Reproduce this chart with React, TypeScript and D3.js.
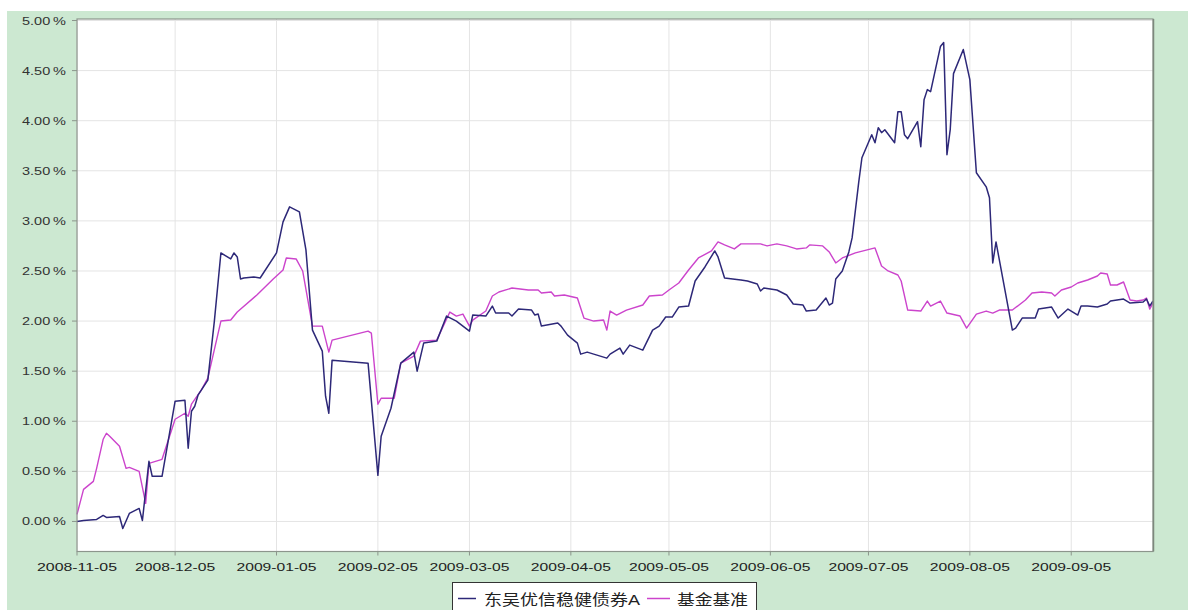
import React from "react";
import * as d3 from "d3";

const fundDates = [
  "2008-11-05","2008-11-07","2008-11-11","2008-11-13","2008-11-14","2008-11-18","2008-11-19","2008-11-21","2008-11-24","2008-11-25",
  "2008-11-27","2008-11-28","2008-12-01","2008-12-05","2008-12-08","2008-12-09","2008-12-10","2008-12-11","2008-12-12","2008-12-15",
  "2008-12-17","2008-12-19","2008-12-22","2008-12-23","2008-12-24","2008-12-25","2008-12-26","2008-12-29","2008-12-31","2009-01-05",
  "2009-01-07","2009-01-09","2009-01-12","2009-01-14","2009-01-16","2009-01-19","2009-01-20","2009-01-21","2009-01-22","2009-02-02",
  "2009-02-05","2009-02-06","2009-02-09","2009-02-12","2009-02-16","2009-02-17","2009-02-19","2009-02-23","2009-02-26","2009-03-01",
  "2009-03-05","2009-03-06","2009-03-10","2009-03-12","2009-03-13","2009-03-17","2009-03-18","2009-03-20","2009-03-24","2009-03-25",
  "2009-03-26","2009-03-27","2009-04-01","2009-04-02","2009-04-04","2009-04-07","2009-04-08","2009-04-10","2009-04-14","2009-04-16",
  "2009-04-17","2009-04-20","2009-04-21","2009-04-23","2009-04-27","2009-04-30","2009-05-02","2009-05-04","2009-05-06","2009-05-08",
  "2009-05-11","2009-05-13","2009-05-16","2009-05-19","2009-05-20","2009-05-22","2009-05-27","2009-05-29","2009-06-01","2009-06-02",
  "2009-06-03","2009-06-07","2009-06-10","2009-06-12","2009-06-15","2009-06-16","2009-06-19","2009-06-22","2009-06-23","2009-06-24",
  "2009-06-25","2009-06-27","2009-06-29","2009-06-30","2009-07-02","2009-07-03","2009-07-06","2009-07-07","2009-07-08","2009-07-09",
  "2009-07-10","2009-07-13","2009-07-14","2009-07-15","2009-07-16","2009-07-17","2009-07-20","2009-07-21","2009-07-22","2009-07-23",
  "2009-07-24","2009-07-27","2009-07-28","2009-07-29","2009-07-30","2009-07-31","2009-08-03","2009-08-05","2009-08-07","2009-08-10",
  "2009-08-11","2009-08-12","2009-08-13","2009-08-18","2009-08-19","2009-08-21","2009-08-25","2009-08-26","2009-08-30","2009-09-01",
  "2009-09-04","2009-09-07","2009-09-08","2009-09-10","2009-09-13","2009-09-16","2009-09-17","2009-09-21","2009-09-23","2009-09-27",
  "2009-09-28","2009-09-29","2009-09-30",
];
const fundValues = [
  0.00,0.01,0.02,0.06,0.04,0.05,-0.07,0.08,0.13,0.01,
  0.60,0.45,0.45,1.20,1.21,0.73,1.10,1.15,1.26,1.41,
  2.00,2.68,2.62,2.68,2.64,2.42,2.43,2.44,2.43,2.68,
  2.99,3.14,3.09,2.71,1.91,1.70,1.25,1.08,1.61,1.58,
  0.46,0.85,1.13,1.58,1.69,1.50,1.78,1.80,2.05,2.00,
  1.90,2.06,2.05,2.15,2.08,2.08,2.05,2.12,2.11,2.06,
  2.07,1.95,1.98,1.95,1.86,1.78,1.67,1.69,1.65,1.63,
  1.67,1.73,1.67,1.76,1.71,1.91,1.95,2.04,2.04,2.14,
  2.15,2.40,2.54,2.70,2.64,2.43,2.41,2.40,2.37,2.30,
  2.33,2.31,2.26,2.17,2.16,2.10,2.11,2.23,2.16,2.18,
  2.42,2.50,2.69,2.83,3.38,3.63,3.86,3.78,3.93,3.88,
  3.91,3.78,4.09,4.09,3.86,3.82,3.99,3.74,4.21,4.31,
  4.29,4.74,4.78,3.66,3.91,4.47,4.71,4.41,3.48,3.34,
  3.23,2.58,2.79,1.91,1.93,2.03,2.03,2.12,2.14,2.03,
  2.12,2.06,2.15,2.15,2.14,2.17,2.20,2.22,2.18,2.19,
  2.22,2.15,2.20,
];

const benchDates = [
  "2008-11-05","2008-11-07","2008-11-10","2008-11-11","2008-11-13","2008-11-14","2008-11-15","2008-11-18","2008-11-20","2008-11-21",
  "2008-11-24","2008-11-26","2008-11-27","2008-12-01","2008-12-05","2008-12-08","2008-12-09","2008-12-10","2008-12-13","2008-12-15",
  "2008-12-19","2008-12-22","2008-12-24","2008-12-30","2009-01-04","2009-01-07","2009-01-08","2009-01-11","2009-01-13","2009-01-16",
  "2009-01-19","2009-01-21","2009-01-22","2009-02-02","2009-02-03","2009-02-05","2009-02-06","2009-02-10","2009-02-12","2009-02-16",
  "2009-02-18","2009-02-23","2009-02-27","2009-03-01","2009-03-03","2009-03-05","2009-03-06","2009-03-10","2009-03-12","2009-03-14",
  "2009-03-18","2009-03-23","2009-03-26","2009-03-27","2009-03-30","2009-03-31","2009-04-03","2009-04-07","2009-04-09","2009-04-12",
  "2009-04-15","2009-04-16","2009-04-17","2009-04-19","2009-04-22","2009-04-27","2009-04-29","2009-05-03","2009-05-05","2009-05-08",
  "2009-05-11","2009-05-14","2009-05-18","2009-05-20","2009-05-22","2009-05-25","2009-05-27","2009-06-02","2009-06-04","2009-06-07",
  "2009-06-10","2009-06-13","2009-06-16","2009-06-17","2009-06-21","2009-06-23","2009-06-25","2009-06-27","2009-07-01","2009-07-07",
  "2009-07-09","2009-07-11","2009-07-14","2009-07-15","2009-07-17","2009-07-21","2009-07-23","2009-07-24","2009-07-27","2009-07-29",
  "2009-08-02","2009-08-04","2009-08-07","2009-08-10","2009-08-12","2009-08-14","2009-08-18","2009-08-22","2009-08-24","2009-08-27",
  "2009-08-30","2009-08-31","2009-09-02","2009-09-05","2009-09-07","2009-09-10","2009-09-13","2009-09-14","2009-09-16","2009-09-17",
  "2009-09-19","2009-09-21","2009-09-23","2009-09-25","2009-09-27","2009-09-28","2009-09-29","2009-09-30",
];
const benchValues = [
  0.07,0.32,0.40,0.53,0.82,0.88,0.85,0.75,0.53,0.54,
  0.50,0.18,0.58,0.62,1.02,1.08,1.05,1.17,1.31,1.43,
  2.00,2.01,2.09,2.26,2.42,2.51,2.63,2.62,2.50,1.95,
  1.95,1.69,1.81,1.90,1.88,1.17,1.23,1.23,1.58,1.65,
  1.80,1.81,2.09,2.05,2.07,1.95,2.01,2.10,2.25,2.29,
  2.33,2.31,2.31,2.28,2.29,2.25,2.26,2.23,2.03,2.00,
  2.01,1.91,2.10,2.06,2.11,2.16,2.25,2.26,2.31,2.38,
  2.51,2.63,2.70,2.79,2.76,2.72,2.77,2.77,2.75,2.77,
  2.75,2.72,2.73,2.76,2.75,2.69,2.58,2.63,2.68,2.73,
  2.55,2.50,2.46,2.40,2.11,2.10,2.20,2.15,2.20,2.08,
  2.05,1.93,2.07,2.10,2.08,2.11,2.11,2.21,2.28,2.29,
  2.28,2.25,2.31,2.34,2.38,2.41,2.45,2.48,2.47,2.36,
  2.36,2.39,2.21,2.20,2.21,2.23,2.12,2.18,
];

const xTickLabels = [
  "2008-11-05","2008-12-05","2009-01-05","2009-02-05","2009-03-05","2009-04-05",
  "2009-05-05","2009-06-05","2009-07-05","2009-08-05","2009-09-05",
];
const yTickValues = [0, 0.5, 1.0, 1.5, 2.0, 2.5, 3.0, 3.5, 4.0, 4.5, 5.0];

const seriesNames = ["东吴优信稳健债券A", "基金基准"];
const seriesColors = ["#2d2878", "#cc44cc"];

const parse = d3.timeParse("%Y-%m-%d");

export default function App() {
  const W = 1188, H = 610;
  const left = 77, right = 1153, top = 20.5, bottom = 551.5;
  const x = d3.scaleTime()
    .domain([parse("2008-11-05") as Date, parse("2009-09-30") as Date])
    .range([left, right]);
  const y = d3.scaleLinear().domain([-0.3, 5.0]).range([bottom, top]);

  const fund = fundDates.map((d, i) => ({ d: parse(d) as Date, v: fundValues[i] }));
  const bench = benchDates.map((d, i) => ({ d: parse(d) as Date, v: benchValues[i] }));
  const line = d3.line<{ d: Date; v: number }>().x(p => x(p.d)).y(p => y(p.v));

  const fmt = d3.format(".2f");
  const font = "'Liberation Sans', Arial, sans-serif";
  const cjk = "'Liberation Sans', 'Noto Sans CJK SC', sans-serif";
  const axisColor = "#8c958c";

  return (
    <svg width={W} height={H} style={{ position: "absolute", left: 0, top: 0, display: "block" }}>
      <rect x={0} y={0} width={W} height={H} fill="#ffffff" />
      <rect x={7} y={11} width={W - 7} height={H - 11} fill="#cce8d1" />
      <rect x={left} y={top - 1.5} width={right - left} height={bottom - top + 1.5} fill="#ffffff" />
      {/* grid */}
      {yTickValues.map(v => (
        <line key={"gy" + v} x1={left} x2={right} y1={y(v)} y2={y(v)} stroke="#e4e4e4" strokeWidth={1} />
      ))}
      {xTickLabels.map(t => (
        <line key={"gx" + t} x1={x(parse(t) as Date)} x2={x(parse(t) as Date)} y1={top - 1.5} y2={bottom} stroke="#e4e4e4" strokeWidth={1} />
      ))}
      {/* series */}
      <path d={line(bench) || ""} fill="none" stroke={seriesColors[1]} strokeWidth={1.4} strokeLinejoin="round" />
      <path d={line(fund) || ""} fill="none" stroke={seriesColors[0]} strokeWidth={1.5} strokeLinejoin="round" />
      {/* border */}
      <rect x={left} y={top - 1.5} width={right - left} height={bottom - top + 1.5} fill="none" stroke={axisColor} strokeWidth={1.2} />
      <line x1={right + 0.5} x2={right + 0.5} y1={top - 1.5} y2={bottom} stroke="#7d877d" strokeWidth={1.5} />
      {/* y ticks */}
      {yTickValues.map(v => (
        <g key={"ty" + v}>
          <line x1={left - 5} x2={left} y1={y(v)} y2={y(v)} stroke={axisColor} />
          <text x={66} y={y(v) + 4} textAnchor="end" fontFamily={font} fontSize={11} fill="#333"
            textLength={44} lengthAdjust="spacingAndGlyphs">{fmt(v) + "\u2009%"}</text>
        </g>
      ))}
      {/* x ticks */}
      {xTickLabels.map(t => {
        const xx = x(parse(t) as Date);
        return (
          <g key={"tx" + t}>
            <line x1={xx} x2={xx} y1={bottom} y2={bottom + 4} stroke={axisColor} />
            <text x={xx} y={570.5} textAnchor="middle" fontFamily={font} fontSize={11} fill="#222"
              textLength={80} lengthAdjust="spacingAndGlyphs">{t}</text>
          </g>
        );
      })}
      {/* legend */}
      <rect x={452.5} y={582.5} width={304} height={40} fill="#ffffff" stroke="#333" strokeWidth={1} />
      <line x1={458} x2={476} y1={598.5} y2={598.5} stroke={seriesColors[0]} strokeWidth={1.5} />
      <text x={484} y={604.5} fontFamily={cjk} fontSize={15} fill="#222" textLength={156} lengthAdjust="spacingAndGlyphs">{seriesNames[0]}</text>
      <line x1={647} x2={670} y1={598.5} y2={598.5} stroke={seriesColors[1]} strokeWidth={1.5} />
      <text x={677} y={604.5} fontFamily={cjk} fontSize={15} fill="#222" textLength={71} lengthAdjust="spacingAndGlyphs">{seriesNames[1]}</text>
    </svg>
  );
}
